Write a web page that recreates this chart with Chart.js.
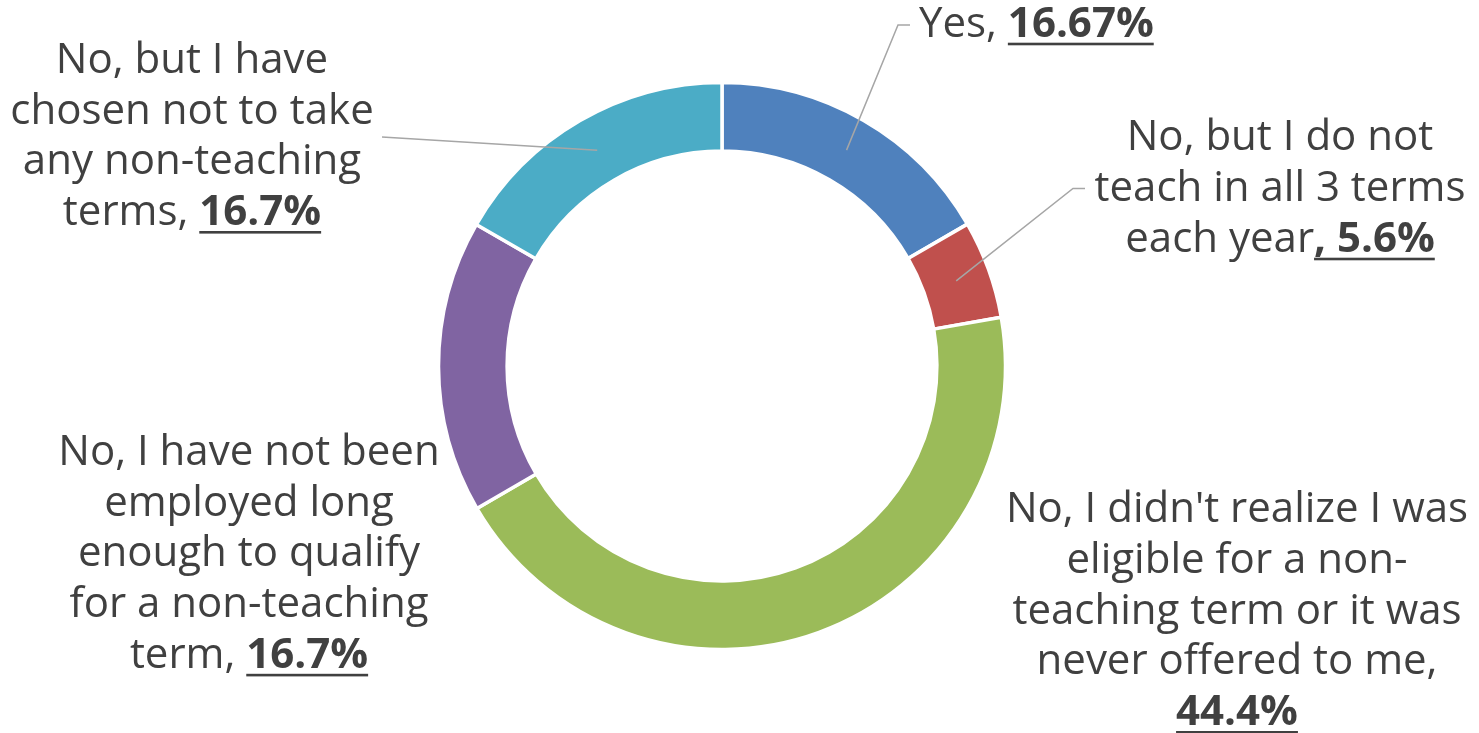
<!DOCTYPE html>
<html>
<head>
<meta charset="utf-8">
<script src="https://cdn.jsdelivr.net/npm/chart.js@4/dist/chart.umd.min.js"></script>
<style>
  html, body { margin: 0; padding: 0; background: #ffffff; }
  canvas { display: block; }
</style>
</head>
<body>
<canvas id="chart" width="1479" height="733"></canvas>
<script>
// Survey answers, in drawing order (clockwise from 12 o'clock)
const categories = [
  "Yes",
  "No, but I do not teach in all 3 terms each year",
  "No, I didn't realize I was eligible for a non-teaching term or it was never offered to me",
  "No, I have not been employed long enough to qualify for a non-teaching term",
  "No, but I have chosen not to take any non-teaching terms"
];

// Share of respondents, percent
const values = [16.67, 5.6, 44.4, 16.7, 16.7];

const sliceColors = ["#4F81BD", "#C0504D", "#9BBB59", "#8064A2", "#4BACC6"];

// Wrapped label text (the percentage is appended to the last line)
const labelLines = [
  ["Yes,"],
  ["No, but I do not", "teach in all 3 terms", "each year"],
  ["No, I didn't realize I was", "eligible for a non-", "teaching term or it was", "never offered to me,"],
  ["No, I have not been", "employed long", "enough to qualify", "for a non-teaching", "term,"],
  ["No, but I have", "chosen not to take", "any non-teaching", "terms,"]
];

// How the bold, underlined percentage joins the label text
const valueJoin = [
  { plain: " ", bold: "" },
  { plain: "", bold: ", " },
  { plain: null, bold: "" },     // null: value goes on its own line
  { plain: " ", bold: "" },
  { plain: " ", bold: "" }
];

// Label placement: anchor x, first-line baseline, alignment, leader bend points
const labelLayout = [
  { x: 919,  y: 36.7,  align: "left",   leader: [[898, 25], [910, 25]] },
  { x: 1280, y: 150.3, align: "center", leader: [[1073, 188.5], [1085, 188.5]] },
  { x: 1237, y: 522.2, align: "center", leader: null },
  { x: 249,  y: 465,   align: "center", leader: null },
  { x: 192,  y: 72.9,  align: "center", leader: [[382, 137]] }
];

const FONT_FAMILY = "'Open Sans', Lato, sans-serif";
const FONT_SIZE = 42;
const LINE_GAP = 50.7;
const TEXT_COLOR = "#404040";
const LEADER_COLOR = "#A6A6A6";

function buildRuns(i) {
  const lines = labelLines[i].map(t => [{ t, bold: false, ul: false }]);
  const v = String(values[i]) + "%";
  const j = valueJoin[i];
  if (j.plain === null) {
    lines.push([{ t: v, bold: true, ul: true }]);
  } else {
    const last = lines[lines.length - 1];
    if (j.plain) last.push({ t: j.plain, bold: false, ul: false });
    last.push({ t: j.bold + v, bold: true, ul: true });
  }
  return lines;
}

const calloutPlugin = {
  id: "callouts",
  afterDatasetsDraw(chart) {
    const ctx = chart.ctx;
    const arcs = chart.getDatasetMeta(0).data;
    arcs.forEach((arc, i) => {
      const lay = labelLayout[i];
      if (lay.leader) {
        const p = arc.tooltipPosition();
        ctx.save();
        ctx.strokeStyle = LEADER_COLOR;
        ctx.lineWidth = 1.5;
        ctx.beginPath();
        ctx.moveTo(p.x, p.y);
        lay.leader.forEach(q => ctx.lineTo(q[0], q[1]));
        ctx.stroke();
        ctx.restore();
      }
      const lines = buildRuns(i);
      ctx.save();
      ctx.fillStyle = TEXT_COLOR;
      ctx.textBaseline = "alphabetic";
      ctx.textAlign = "left";
      lines.forEach((runs, li) => {
        const y = lay.y + li * LINE_GAP;
        const widths = runs.map(r => {
          ctx.font = (r.bold ? "bold " : "") + FONT_SIZE + "px " + FONT_FAMILY;
          return ctx.measureText(r.t).width;
        });
        const total = widths.reduce((a, b) => a + b, 0);
        let x = lay.align === "left" ? lay.x : lay.x - total / 2;
        runs.forEach((r, ri) => {
          ctx.font = (r.bold ? "bold " : "") + FONT_SIZE + "px " + FONT_FAMILY;
          ctx.fillText(r.t, x, y);
          if (r.ul) ctx.fillRect(x, y + 6, widths[ri], 2.6);
          x += widths[ri];
        });
      });
      ctx.restore();
    });
  }
};

new Chart(document.getElementById("chart"), {
  type: "doughnut",
  data: {
    labels: categories,
    datasets: [{
      data: values,
      backgroundColor: sliceColors,
      borderColor: "#ffffff",
      borderWidth: 3.5
    }]
  },
  options: {
    responsive: false,
    animation: false,
    radius: 283.5,
    cutout: "75.8%",
    layout: { padding: { left: 440, right: 475, top: 84, bottom: 85 } },
    plugins: {
      legend: { display: false },
      tooltip: { enabled: false }
    }
  },
  plugins: [calloutPlugin]
});
</script>
</body>
</html>
